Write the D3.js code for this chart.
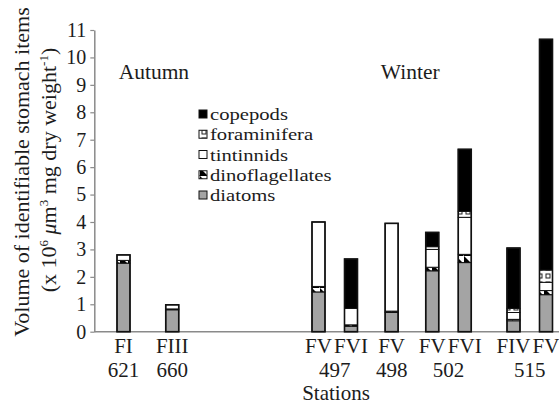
<!DOCTYPE html>
<html><head><meta charset="utf-8">
<script src="https://cdn.jsdelivr.net/npm/d3@7"></script>
<style>
body{margin:0;background:#fff}
svg{display:block}
svg text{font-family:"Liberation Serif","Times New Roman",serif !important;fill:#1c1c1c}
</style>
</head><body><svg id="c" width="559" height="404" font-family="Liberation Serif"></svg>
<script>
// ---- data ----
const categories = ["FI 621","FIII 660","FV 497","FVI 497","FV 498","FV 502","FVI 502","FIV 515","FV 515"];
const diatoms         = [2.50, 0.80, 1.45, 0.20, 0.70, 2.22, 2.52, 0.40, 1.35];
const dinoflagellates = [0.10, 0.03, 0.20, 0.05, 0.05, 0.13, 0.30, 0.05, 0.15];
const tintinnids      = [0.20, 0.15, 2.35, 0.60, 3.20, 0.65, 1.35, 0.25, 0.30];
const foraminifera    = [0.00, 0.00, 0.00, 0.00, 0.00, 0.10, 0.22, 0.15, 0.45];
const copepods        = [0.00, 0.00, 0.00, 1.80, 0.00, 0.52, 2.26, 2.20, 8.41];
const seriesKeys = ["diatoms","dinoflagellates","tintinnids","foraminifera","copepods"];
const legendOrder = ["copepods","foraminifera","tintinnids","dinoflagellates","diatoms"];
const yTicks = [0,1,2,3,4,5,6,7,8,9,10,11];
const seasons = ["Autumn","Winter"];
// category axis of the source sheet, including its blank categories
const xSlots = ["FI 621","","","","","","FIII 660","","","","","","","","","","","","","","","","","",
  "FV 497","","","","FVI 497","","","","","FV 498","","","","","FV 502","","","","FVI 502",
  "","","","","","FIV 515","","","","FV 515"];

const values = {diatoms, dinoflagellates, tintinnids, foraminifera, copepods};
const table = categories.map((c,i)=>{
  const o = {cat:c, stage:c.split(" ")[0], station:c.split(" ")[1]};
  seriesKeys.forEach(k=>o[k]=values[k][i]);
  return o;
});

// ---- layout ----
const FONT = "Liberation Serif";
const svg = d3.select("#c");
const W = 559;
const y = d3.scaleLinear().domain([0,11]).range([331.7,30]);
const x = d3.scalePoint().domain(d3.range(xSlots.length)).range([123.5,546]);
const cx = c => x(xSlots.indexOf(c));
const barW = 13;
const axisX = 94.3;

const defs = svg.append("defs");
const pDino = defs.append("pattern").attr("id","pDino").attr("patternUnits","userSpaceOnUse")
  .attr("width",8).attr("height",8);
pDino.append("rect").attr("width",8).attr("height",8).attr("fill","#fff");
pDino.append("path").attr("d","M0,0L0,8L8,8Z").attr("fill","#000");
const pForam = defs.append("pattern").attr("id","pForam").attr("patternUnits","userSpaceOnUse")
  .attr("width",8).attr("height",8);
pForam.append("rect").attr("width",8).attr("height",8).attr("fill","#fff");
pForam.append("rect").attr("x",2).attr("y",2).attr("width",4).attr("height",4)
  .attr("fill","#fff").attr("stroke","#222").attr("stroke-width",1);

const fills = {diatoms:"#a4a4a4", dinoflagellates:"url(#pDino)", tintinnids:"#ffffff",
  foraminifera:"url(#pForam)", copepods:"#000000"};

// axes
const yAxis = d3.axisLeft(y).tickValues(yTicks).tickSize(4).tickSizeOuter(0).tickPadding(4);
const gy = svg.append("g").attr("transform",`translate(${axisX},0)`).call(yAxis)
  .attr("font-family",FONT);
gy.select(".domain").attr("stroke","#8a8a8a").attr("stroke-width",1.5);
gy.selectAll(".tick line").attr("stroke","#8a8a8a").attr("stroke-width",1.2);
gy.selectAll(".tick text").attr("font-size",20).attr("font-family",FONT).attr("fill","#1c1c1c");

svg.append("line").attr("x1",axisX).attr("x2",W).attr("y1",y(0)).attr("y2",y(0))
  .attr("stroke","#8a8a8a").attr("stroke-width",1.5);

// stacked bars
const stack = d3.stack().keys(seriesKeys);
const layers = stack(table);
const gb = svg.append("g");
layers.forEach(layer=>{
  gb.selectAll(null).data(layer.filter(d=>d[1]-d[0]>0)).join("rect")
    .attr("x",d=>cx(d.data.cat)-barW/2)
    .attr("y",d=>y(d[1]))
    .attr("width",barW)
    .attr("height",d=>y(d[0])-y(d[1]))
    .attr("fill",fills[layer.key])
    .attr("stroke","#111").attr("stroke-width",1);
});
const totals = table.map(d=>({cat:d.cat, total:d3.sum(seriesKeys,k=>d[k])}));
gb.selectAll(null).data(totals).join("rect")
  .attr("x",d=>cx(d.cat)-barW/2).attr("y",d=>y(d.total))
  .attr("width",barW).attr("height",d=>y(0)-y(d.total))
  .attr("fill","none").attr("stroke","#111").attr("stroke-width",1.6);

// x labels
svg.selectAll(null).data(table).join("text")
  .attr("x",d=>cx(d.cat)).attr("y",353).attr("font-family",FONT)
  .attr("text-anchor","middle").attr("font-size",21).text(d=>d.stage);
const groups = d3.groups(table,d=>d.station).map(([s,arr])=>({s, m:d3.mean(arr,d=>cx(d.cat))}));
svg.selectAll(null).data(groups).join("text")
  .attr("x",d=>d.m).attr("y",377).attr("font-family",FONT)
  .attr("text-anchor","middle").attr("font-size",21).text(d=>d.s);
svg.append("text").attr("x",336).attr("y",400).attr("text-anchor","middle")
  .attr("font-family",FONT).attr("font-size",21).text("Stations");

// season labels
svg.selectAll(null).data(seasons).join("text")
  .attr("x",(d,i)=> i===0 ? (cx(categories[0])+cx(categories[1]))/2 + 6 : (cx(categories[2])+cx(categories[8]))/2 - 22)
  .attr("y",79).attr("text-anchor","middle").attr("font-family",FONT).attr("font-size",21.5).text(d=>d);

// y title
svg.append("text").attr("transform","translate(29,172) rotate(-90)").attr("font-family",FONT)
  .attr("text-anchor","middle").attr("font-size",22).text("Volume of identifiable stomach items");
const t2 = svg.append("text").attr("transform","translate(56,170) rotate(-90)")
  .attr("text-anchor","middle").attr("font-family",FONT).attr("font-size",22);
t2.append("tspan").text("(x 10");
t2.append("tspan").attr("font-size",13).attr("dy",-8).text("6");
t2.append("tspan").attr("dy",8).text(" ");
t2.append("tspan").attr("font-style","italic").text("μ");
t2.append("tspan").text("m");
t2.append("tspan").attr("font-size",13).attr("dy",-8).text("3");
t2.append("tspan").attr("dy",8).text(" mg dry weight");
t2.append("tspan").attr("font-size",13).attr("dy",-8).text("-1");
t2.append("tspan").attr("dy",8).text(")");

// legend
const lg = svg.append("g");
const rowY = d3.scalePoint().domain(legendOrder).range([114,195]);
legendOrder.forEach(k=>{
  lg.append("rect").attr("x",199).attr("y",rowY(k)-4).attr("width",8).attr("height",8)
    .attr("fill",fills[k]).attr("stroke","#111").attr("stroke-width",1);
  lg.append("text").attr("transform",`translate(210,${rowY(k)}) scale(1.18,1)`)
    .attr("dy","0.35em").attr("font-family",FONT).attr("font-size",17.5).text(k);
});
</script>
</body></html>
